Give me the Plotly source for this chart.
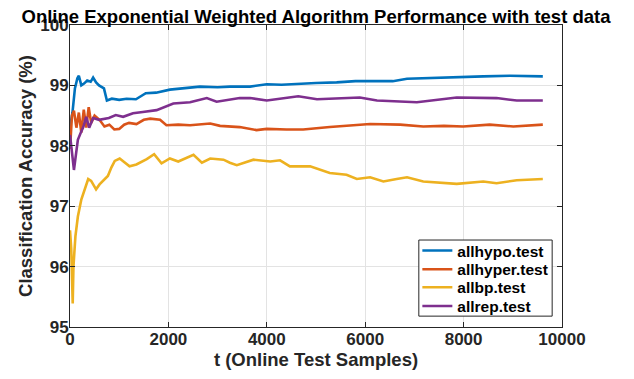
import plotly.graph_objects as go

hypo_t = [0, 50, 100, 150, 180, 230, 285, 350, 420, 470, 530, 590, 690, 750, 850, 1000, 1150, 1340, 1540, 1750, 2030, 2300, 2640, 3000, 3250, 3660, 4000, 4300, 4670, 5000, 5420, 5800, 6200, 6560, 6850, 7200, 7600, 7990, 8400, 8940, 9300, 9610]
hypo_v = [98.3, 98.55, 98.95, 99.12, 99.16, 99.0, 99.03, 99.08, 99.06, 99.13, 99.05, 99.0, 98.95, 98.75, 98.78, 98.76, 98.78, 98.77, 98.87, 98.88, 98.93, 98.95, 98.98, 98.97, 98.98, 98.98, 99.02, 99.01, 99.03, 99.04, 99.05, 99.07, 99.07, 99.07, 99.11, 99.12, 99.13, 99.15, 99.15, 99.16, 99.16, 99.15]

hyper_t = [0, 40, 80, 130, 180, 230, 280, 330, 380, 430, 500, 600, 700, 800, 900, 1000, 1100, 1200, 1350, 1500, 1630, 1830, 1960, 2200, 2440, 2850, 3050, 3450, 3790, 4000, 4400, 4740, 5280, 5560, 6100, 6710, 7180, 7600, 7990, 8530, 9010, 9610]
hyper_v = [97.95, 98.5, 98.58, 98.3, 98.55, 98.22, 98.6, 98.3, 98.64, 98.38, 98.5, 98.43, 98.32, 98.35, 98.27, 98.28, 98.35, 98.38, 98.36, 98.43, 98.45, 98.43, 98.34, 98.35, 98.34, 98.37, 98.33, 98.31, 98.26, 98.28, 98.27, 98.27, 98.31, 98.33, 98.36, 98.35, 98.32, 98.33, 98.32, 98.35, 98.32, 98.35]

bp_t = [0, 25, 55, 70, 110, 160, 230, 300, 370, 430, 530, 600, 670, 770, 840, 910, 1010, 1110, 1210, 1350, 1560, 1710, 1860, 2030, 2200, 2510, 2680, 2850, 3120, 3250, 3390, 3730, 4070, 4270, 4470, 4880, 5280, 5620, 5830, 6100, 6370, 6640, 6850, 7180, 7860, 8400, 8670, 9080, 9610]
bp_v = [96.6, 96.3, 95.39, 96.0, 96.5, 96.83, 97.11, 97.28, 97.45, 97.42, 97.28, 97.36, 97.42, 97.5, 97.64, 97.75, 97.79, 97.72, 97.66, 97.69, 97.78, 97.86, 97.71, 97.79, 97.74, 97.85, 97.72, 97.79, 97.77, 97.72, 97.68, 97.77, 97.74, 97.76, 97.66, 97.66, 97.55, 97.52, 97.45, 97.48, 97.41, 97.45, 97.48, 97.41, 97.37, 97.41, 97.38, 97.43, 97.45]

rep_t = [0, 40, 80, 120, 160, 210, 270, 330, 390, 470, 590, 790, 930, 1080, 1280, 1480, 1760, 2100, 2440, 2780, 2980, 3450, 3660, 4000, 4640, 5020, 5890, 6240, 7050, 7860, 8670, 9080, 9610]
rep_v = [98.18, 97.9, 97.6, 97.85, 98.1, 98.2, 98.31, 98.48, 98.3, 98.46, 98.43, 98.46, 98.51, 98.48, 98.54, 98.56, 98.59, 98.70, 98.72, 98.79, 98.73, 98.79, 98.79, 98.75, 98.82, 98.77, 98.8, 98.75, 98.72, 98.8, 98.79, 98.75, 98.75]

names = ["allhypo.test", "allhyper.test", "allbp.test", "allrep.test"]
colors = ["#0072BD", "#D95319", "#EDB120", "#7E2F8E"]
x_ticks = [0, 2000, 4000, 6000, 8000, 10000]
y_ticks = [95, 96, 97, 98, 99, 100]

FONT = "Liberation Sans, Arial, sans-serif"
legend_ids = ["legend", "legend2", "legend3", "legend4"]
legend_rows = [0.252, 0.190, 0.130, 0.068]

fig = go.Figure()
for name, color, t, v, lid in zip(names, colors, [hypo_t, hyper_t, bp_t, rep_t],
                                  [hypo_v, hyper_v, bp_v, rep_v], legend_ids):
    fig.add_trace(go.Scatter(x=t, y=v, mode="lines", name=name, legend=lid,
                             line=dict(color=color, width=2.6)))

axis_common = dict(showline=True, linecolor="#262626", linewidth=1, mirror="ticks",
                   ticks="inside", ticklen=5, tickcolor="#262626", automargin=False,
                   showgrid=True, gridcolor="#e3e3e3", gridwidth=1, zeroline=False,
                   tickfont=dict(family=FONT, size=17, color="#262626", weight="bold"))

legend_layout = {}
for lid, ly in zip(legend_ids, legend_rows):
    legend_layout[lid] = dict(x=0.706, y=ly, xanchor="left", yanchor="middle",
                              bgcolor="rgba(0,0,0,0)", borderwidth=0,
                              font=dict(family=FONT, size=15.5, color="black", weight="bold"),
                              itemwidth=30, tracegroupgap=0)

# page body has an 8px margin, so the figure is sized and placed to compensate
fig.update_layout(
    width=626, height=371,
    margin=dict(l=62, r=72, t=17, b=52, autoexpand=False),
    paper_bgcolor="white", plot_bgcolor="white",
    font=dict(family=FONT, color="#262626"),
    title=dict(text="<b>Online Exponential Weighted Algorithm Performance with test data</b>",
               x=0.5, xref="paper", xanchor="center", y=1.0, yref="container", yanchor="top",
               pad=dict(t=2, b=0),
               font=dict(family=FONT, size=18.5, color="black")),
    xaxis=dict(range=[0, 10000], tickvals=x_ticks, ticktext=[str(v) for v in x_ticks],
               ticklabelstandoff=-3,
               title=dict(text="<b>t (Online Test Samples)</b>", standoff=1,
                          font=dict(family=FONT, size=18.5, color="#262626")),
               **axis_common),
    yaxis=dict(range=[95, 100], tickvals=y_ticks, ticktext=[str(v) for v in y_ticks],
               ticklabelstandoff=-3,
               title=dict(text="<b>Classification Accuracy (%)</b>", standoff=2,
                          font=dict(family=FONT, size=18.5, color="#262626")),
               **axis_common),
    shapes=[dict(type="rect", xref="paper", yref="paper", x0=0.709, x1=0.98, y0=0.036, y1=0.288,
                 fillcolor="white", line=dict(color="#262626", width=1), layer="above")],
    showlegend=True,
    **legend_layout,
)

fig.write_html("out.html")
